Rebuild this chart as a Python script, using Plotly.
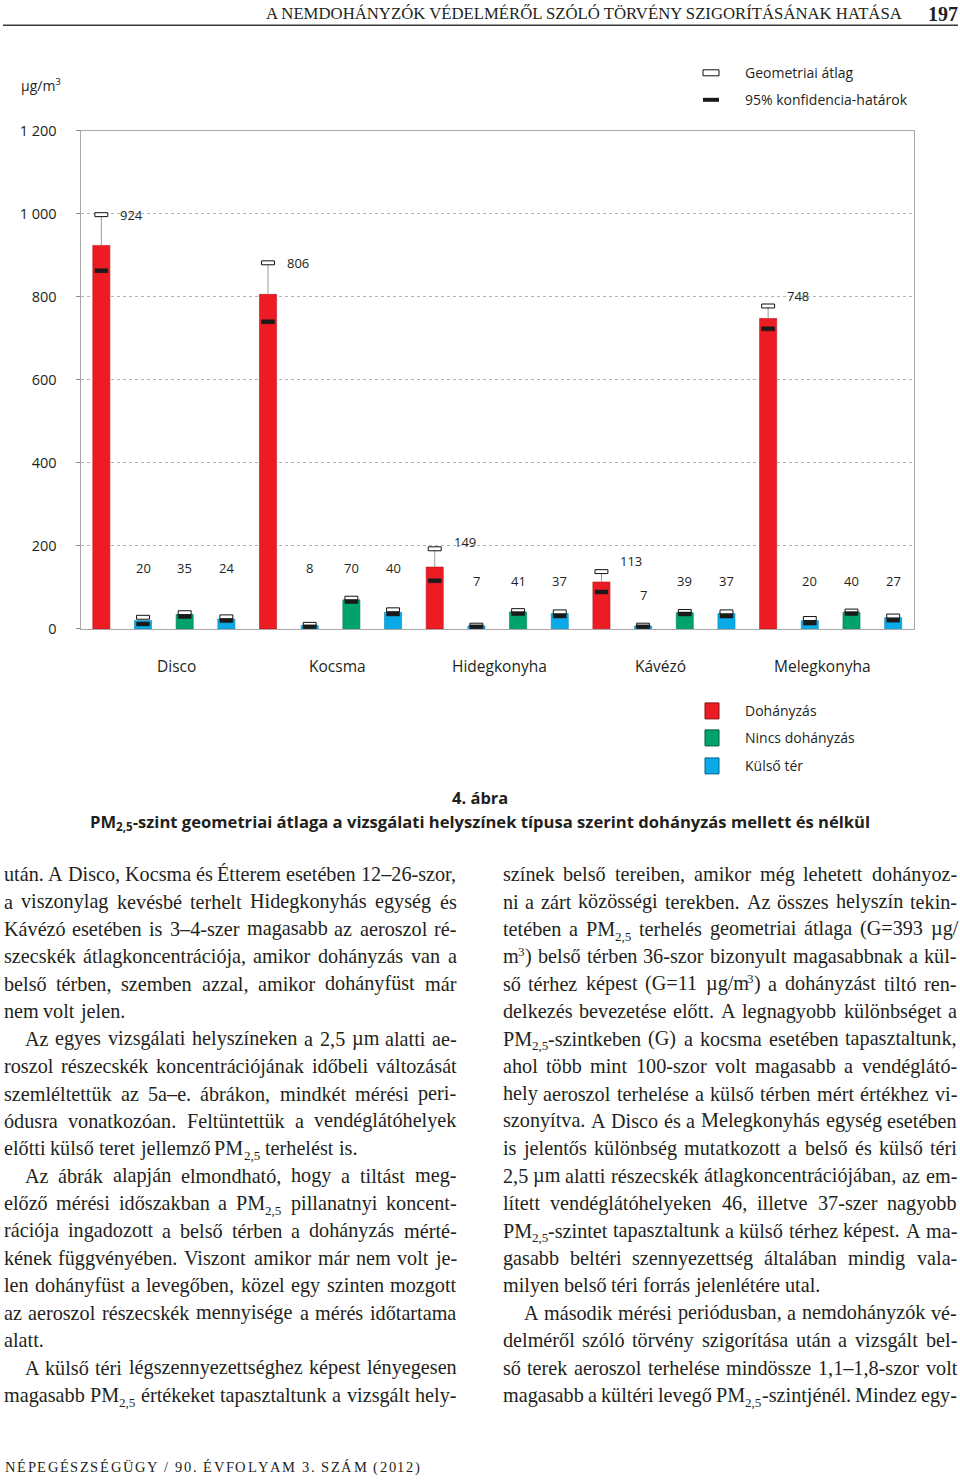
import re
import unicodedata
import plotly.graph_objects as go

PAGE_W, PAGE_H = 960, 1480

# ---------------- data ----------------
groups = ["Disco", "Kocsma", "Hidegkonyha", "Kávézó", "Melegkonyha"]

smoking = [924, 806, 149, 113, 748]
smoking_lo = [863, 740, 116, 89, 723]
smoking_hi = [998, 882, 193, 138, 778]

outdoor_before = [20, 8, 7, 7, 20]
outdoor_before_lo = [12, 5, 5, 5, 14]
outdoor_before_hi = [28, 11, 9, 9, 25]

nonsmoking = [35, 70, 41, 39, 40]
nonsmoking_lo = [30, 66, 37, 36, 37]
nonsmoking_hi = [39, 74, 44, 42, 43]

outdoor_after = [24, 40, 37, 37, 27]
outdoor_after_lo = [20, 36, 31, 31, 21]
outdoor_after_hi = [29, 46, 41, 41, 31]

y_tickvals = [0, 200, 400, 600, 800, 1000, 1200]
y_ticktext = ["0", "200", "400", "600", "800", "1 000", "1 200"]

legend_ci = ["Geometriai átlag", "95% konfidencia-határok"]
legend_series = ["Dohányzás", "Nincs dohányzás", "Külső tér"]

# label heights (layout only)
label_y_red = [997, 882, 210, 164, 802]
label_y_before = [147, 147, 116, 82, 116]
label_y_non = [147, 147, 116, 116, 116]
label_y_after = [147, 147, 116, 116, 116]

RED, GREEN, BLUE = "#ED1C24", "#00A36D", "#0AAAE8"
TXT = "#231f20"
SANS = "Open Sans"
SERIF = "Liberation Serif"

# the captured page is slightly compressed vertically; compensate
Y_OFF, Y_SCALE = 9.2, 0.987


def xp(x):
    return x / PAGE_W


def yp(y):
    return 1 - ((y - Y_OFF) / Y_SCALE) / PAGE_H


fig = go.Figure()

series = [
    (smoking, smoking_lo, smoking_hi, RED, "#b8141a", 0),
    (outdoor_before, outdoor_before_lo, outdoor_before_hi, BLUE, "#0a86b8", 1),
    (nonsmoking, nonsmoking_lo, nonsmoking_hi, GREEN, "#00804f", 2),
    (outdoor_after, outdoor_after_lo, outdoor_after_hi, BLUE, "#0a86b8", 3),
]

MH = 9.5  # CI marker height in data units
for vals, lo, hi, col, edge, k in series:
    xs = [4 * g + k for g in range(len(groups))]
    fig.add_trace(go.Bar(
        x=xs, y=vals, width=0.41,
        marker=dict(color=col, line=dict(color=edge, width=0.6)),
        error_y=dict(type="data", symmetric=False,
                     array=[h - v for h, v in zip(hi, vals)],
                     arrayminus=[0] * len(vals),
                     color="#9a9a9a", thickness=1, width=0),
        showlegend=False, hoverinfo="skip"))
    fig.add_trace(go.Bar(
        x=xs, y=[MH] * len(hi), base=[h - MH / 2 for h in hi], width=0.31,
        marker=dict(color="white", line=dict(color="#111111", width=1)),
        showlegend=False, hoverinfo="skip"))
    fig.add_trace(go.Bar(
        x=xs, y=[MH] * len(lo), base=[l - MH / 2 for l in lo], width=0.31,
        marker=dict(color="#1a1a1a", line=dict(color="#1a1a1a", width=0.5)),
        showlegend=False, hoverinfo="skip"))

annotations = []

# value labels
for vals, ly, k, dx in [(smoking, label_y_red, 0, 0.72),
                        (outdoor_before, label_y_before, 1, 0),
                        (nonsmoking, label_y_non, 2, 0),
                        (outdoor_after, label_y_after, 3, 0)]:
    for g, v in enumerate(vals):
        annotations.append(dict(x=4 * g + k + dx, y=ly[g], xref="x", yref="y",
                                xanchor="center", yanchor="middle",
                                text=str(v), showarrow=False,
                                font=dict(family=SANS, size=13, color=TXT)))

# group labels
for i, name in enumerate(groups):
    annotations.append(dict(x=xp(176 + 161.5 * i), y=yp(665), xref="paper", yref="paper",
                            xanchor="center", yanchor="middle",
                            text=name, showarrow=False,
                            font=dict(family=SANS, size=15.5, color=TXT)))

# unit label
annotations.append(dict(x=xp(19), y=yp(84), xref="paper", yref="paper",
                        xanchor="left", yanchor="middle",
                        text="µg/m<sup>3</sup>", showarrow=False,
                        font=dict(family=SANS, size=14, color=TXT)))

shapes = []
# CI legend
shapes.append(dict(type="rect", xref="paper", yref="paper", x0=xp(703), x1=xp(719),
                   y0=yp(75), y1=yp(69), fillcolor="white", line=dict(color="#111", width=1)))
shapes.append(dict(type="rect", xref="paper", yref="paper", x0=xp(703), x1=xp(719),
                   y0=yp(101), y1=yp(97), fillcolor="#1a1a1a", line=dict(width=0)))
for t, yy in zip(legend_ci, [72, 99]):
    annotations.append(dict(x=xp(743), y=yp(yy), xref="paper", yref="paper",
                            xanchor="left", yanchor="middle",
                            text=t, showarrow=False, font=dict(family=SANS, size=14, color=TXT)))
# series legend
for t, yy, col, edge in zip(legend_series, [710, 737, 765], [RED, GREEN, BLUE],
                            ["#8a1015", "#005a3a", "#06658c"]):
    shapes.append(dict(type="rect", xref="paper", yref="paper", x0=xp(705), x1=xp(719),
                       y0=yp(yy + 8), y1=yp(yy - 8), fillcolor=col, line=dict(color=edge, width=1)))
    annotations.append(dict(x=xp(743), y=yp(yy), xref="paper", yref="paper",
                            xanchor="left", yanchor="middle",
                            text=t, showarrow=False, font=dict(family=SANS, size=14, color=TXT)))

# caption
annotations.append(dict(x=0.5, y=yp(797), xref="paper", yref="paper",
                        xanchor="center", yanchor="middle", text="<b>4. ábra</b>",
                        showarrow=False, font=dict(family=SANS, size=16.5, color=TXT)))
annotations.append(dict(x=0.5, y=yp(821), xref="paper", yref="paper",
                        xanchor="center", yanchor="middle",
                        text="<b>PM<sub>2,5</sub>-szint geometriai átlaga a vizsgálati helyszínek típusa szerint dohányzás mellett és nélkül</b>",
                        showarrow=False, font=dict(family=SANS, size=16.6, color=TXT)))

# ---------------- page text ----------------
TW = {' ': 250, 'a': 444, 'b': 500, 'c': 444, 'd': 500, 'e': 444, 'f': 333, 'g': 500, 'h': 500,
      'i': 278, 'j': 278, 'k': 500, 'l': 278, 'm': 778, 'n': 500, 'o': 500, 'p': 500, 'q': 500,
      'r': 333, 's': 389, 't': 278, 'u': 500, 'v': 500, 'w': 722, 'x': 500, 'y': 500, 'z': 444,
      'A': 722, 'B': 667, 'C': 667, 'D': 722, 'E': 611, 'F': 556, 'G': 722, 'H': 722, 'I': 333,
      'J': 389, 'K': 722, 'L': 611, 'M': 889, 'N': 722, 'O': 722, 'P': 556, 'Q': 722, 'R': 667,
      'S': 556, 'T': 611, 'U': 722, 'V': 722, 'W': 944, 'X': 722, 'Y': 722, 'Z': 611,
      ',': 250, '.': 250, '-': 333, '–': 500, '(': 333, ')': 333, '/': 278, '=': 564,
      'µ': 500, '%': 833, ':': 278, ';': 278}


def char_w(c):
    if c in TW:
        return TW[c]
    b = unicodedata.normalize("NFD", c)[0]
    if b in TW:
        return TW[b]
    return 500


def text_w(s, size):
    return sum(char_w(c) for c in s) * size / 1000.0


FS = 20.2
SUBS = 0.65
ASC_SHIFT = 0.3375  # baseline - box centre, Liberation Serif


def add_seg(x, baseline, text, kind, size=FS):
    if kind == "sub":
        s = size * SUBS
        b = baseline + 0.24 * size
    elif kind == "sup":
        s = size * SUBS
        b = baseline - 0.36 * size
    else:
        s = size
        b = baseline
    annotations.append(dict(x=xp(x), y=yp(b - ASC_SHIFT * s), xref="paper", yref="paper",
                            xanchor="left", yanchor="middle", text=text, showarrow=False,
                            borderpad=0, borderwidth=0,
                            font=dict(family=SERIF, size=s, color=TXT)))


def split_segs(word):
    out = []
    for p in re.split(r"(_\{[^}]*\}|\^\{[^}]*\})", word):
        if not p:
            continue
        if p.startswith("_{"):
            out.append((p[2:-1], "sub"))
        elif p.startswith("^{"):
            out.append((p[2:-1], "sup"))
        else:
            out.append((p, "n"))
    return out


def seg_w(t, kind):
    return text_w(t, FS * (SUBS if kind != "n" else 1))


def place_line(x0, x1, baseline, line, justify):
    words = line.split(" ")
    segs = [split_segs(w) for w in words]
    widths = [sum(seg_w(t, k) for t, k in s) for s in segs]
    if justify and len(words) > 1:
        gap = max((x1 - x0 - sum(widths)) / (len(words) - 1), 0.15 * FS)
    else:
        gap = 0.25 * FS
    x = x0
    for s, wd in zip(segs, widths):
        cx = x
        for t, k in s:
            add_seg(cx, baseline, t, k)
            cx += seg_w(t, k)
        x += wd + gap


left_column = [
    (False, False, [
        "után. A Disco, Kocsma és Étterem esetében 12–26-szor,",
        "a viszonylag kevésbé terhelt Hidegkonyhás egység és",
        "Kávézó esetében is 3–4-szer magasabb az aeroszol ré-",
        "szecskék átlagkoncentrációja, amikor dohányzás van a",
        "belső térben, szemben azzal, amikor dohányfüst már",
        "nem volt jelen.",
    ]),
    (True, False, [
        "Az egyes vizsgálati helyszíneken a 2,5 µm alatti ae-",
        "roszol részecskék koncentrációjának időbeli változását",
        "szemléltettük az 5a–e. ábrákon, mindkét mérési peri-",
        "ódusra vonatkozóan. Feltüntettük a vendéglátóhelyek",
        "előtti külső teret jellemző PM_{2,5} terhelést is.",
    ]),
    (True, False, [
        "Az ábrák alapján elmondható, hogy a tiltást meg-",
        "előző mérési időszakban a PM_{2,5} pillanatnyi koncent-",
        "rációja ingadozott a belső térben a dohányzás mérté-",
        "kének függvényében. Viszont amikor már nem volt je-",
        "len dohányfüst a levegőben, közel egy szinten mozgott",
        "az aeroszol részecskék mennyisége a mérés időtartama",
        "alatt.",
    ]),
    (True, True, [
        "A külső téri légszennyezettséghez képest lényegesen",
        "magasabb PM_{2,5} értékeket tapasztaltunk a vizsgált hely-",
    ]),
]

right_column = [
    (False, False, [
        "színek belső tereiben, amikor még lehetett dohányoz-",
        "ni a zárt közösségi terekben. Az összes helyszín tekin-",
        "tetében a PM_{2,5} terhelés geometriai átlaga (G=393 µg/",
        "m^{3}) belső térben 36-szor bizonyult magasabbnak a kül-",
        "ső térhez képest (G=11 µg/m^{3}) a dohányzást tiltó ren-",
        "delkezés bevezetése előtt. A legnagyobb különbséget a",
        "PM_{2,5}-szintkeben (G) a kocsma esetében tapasztaltunk,",
        "ahol több mint 100-szor volt magasabb a vendéglátó-",
        "hely aeroszol terhelése a külső térben mért értékhez vi-",
        "szonyítva. A Disco és a Melegkonyhás egység esetében",
        "is jelentős különbség mutatkozott a belső és külső téri",
        "2,5 µm alatti részecskék átlagkoncentrációjában, az em-",
        "lített vendéglátóhelyeken 46, illetve 37-szer nagyobb",
        "PM_{2,5}-szintet tapasztaltunk a külső térhez képest. A ma-",
        "gasabb beltéri szennyezettség általában mindig vala-",
        "milyen belső téri forrás jelenlétére utal.",
    ]),
    (True, True, [
        "A második mérési periódusban, a nemdohányzók vé-",
        "delméről szóló törvény szigorítása után a vizsgált bel-",
        "ső terek aeroszol terhelése mindössze 1,1–1,8-szor volt",
        "magasabb a kültéri levegő PM_{2,5}-szintjénél. Mindez egy-",
    ]),
]

BASE0, PITCH, INDENT = 880.0, 27.42, 21.0
for col, (x0, x1) in [(left_column, (3.5, 456.5)), (right_column, (502.5, 957.0))]:
    row = 0
    for indent, continues, lines in col:
        for i, line in enumerate(lines):
            last = (i == len(lines) - 1)
            justify = (not last) or continues
            start = x0 + (INDENT if (indent and i == 0) else 0)
            place_line(start, x1, BASE0 + row * PITCH, line, justify)
            row += 1

# running header
header = "A NEMDOHÁNYZÓK VÉDELMÉRŐL SZÓLÓ TÖRVÉNY SZIGORÍTÁSÁNAK HATÁSA"
hfs = 642.0 / (sum(char_w(c) for c in header) / 1000.0)
annotations.append(dict(x=xp(902), y=yp(18.5 - ASC_SHIFT * hfs), xref="paper", yref="paper",
                        xanchor="right", yanchor="middle", text=header, showarrow=False,
                        borderpad=0, borderwidth=0, font=dict(family=SERIF, size=hfs, color=TXT)))
annotations.append(dict(x=xp(958), y=yp(19.5 - ASC_SHIFT * 20), xref="paper", yref="paper",
                        xanchor="right", yanchor="middle", text="<b>197</b>", showarrow=False,
                        borderpad=0, borderwidth=0, font=dict(family=SERIF, size=20, color=TXT)))
shapes.append(dict(type="line", xref="paper", yref="paper", x0=xp(3), x1=xp(958),
                   y0=yp(24.5), y1=yp(24.5), line=dict(color="#3a3a3a", width=1.5)))

# footer (letter-spaced small caps)
footer = "NÉPEGÉSZSÉGÜGY / 90. ÉVFOLYAM 3. SZÁM (2012)"
ffs = 14.5
nat = text_w(footer, ffs)
track = (415.0 - nat) / (len(footer) - 1)
fx = 5.0
for c in footer:
    if c != " ":
        annotations.append(dict(x=xp(fx), y=yp(1471 - ASC_SHIFT * ffs), xref="paper", yref="paper",
                                xanchor="left", yanchor="middle", text=c, showarrow=False,
                                borderpad=0, borderwidth=0,
                                font=dict(family=SERIF, size=ffs, color=TXT)))
    fx += text_w(c, ffs) + track

fig.update_layout(
    width=PAGE_W, height=PAGE_H,
    margin=dict(l=0, r=0, t=0, b=0),
    paper_bgcolor="white", plot_bgcolor="white",
    barmode="overlay", showlegend=False,
    xaxis=dict(domain=[xp(80.5), xp(914)], range=[-0.5, 19.5], showticklabels=False,
               ticks="", showgrid=False, zeroline=False, showline=True, mirror=True,
               linecolor="#a8a8a8", linewidth=1, fixedrange=True),
    yaxis=dict(domain=[yp(628), yp(130)], range=[0, 1200], tickvals=y_tickvals,
               ticktext=y_ticktext, ticks="outside", ticklen=4, tickcolor="#8a8a8a",
               ticklabelstandoff=16, showgrid=True, gridcolor="#b5b5b5", griddash="dot",
               gridwidth=1, zeroline=False, showline=True, mirror=True,
               linecolor="#a8a8a8", linewidth=1,
               tickfont=dict(family=SANS, size=14.5, color=TXT), fixedrange=True),
    annotations=annotations,
    shapes=shapes,
)

fig.write_html("out.html")
